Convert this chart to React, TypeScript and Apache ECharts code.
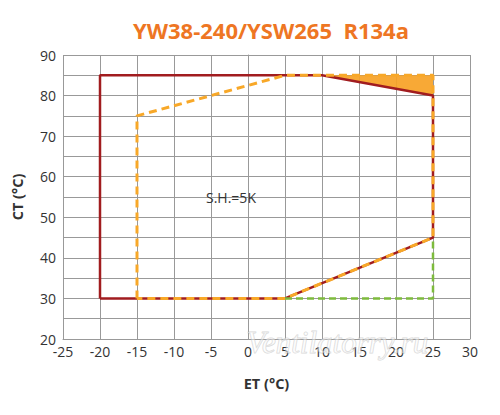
import React, { useEffect, useRef } from "react";
import * as echarts from "echarts";

const titleText = "YW38-240/YSW265  R134a";
const xName = "ET (°C)";
const yName = "CT (°C)";
const noteText = "S.H.=5K";
const notePos = [-2.3, 55];
const watermarkText = "Ventilatorry.ru";

const redEnvelope = [
  [-20, 30], [-20, 85], [10, 85], [25, 80], [25, 45], [5, 30], [-20, 30],
];
const orangeEnvelope = [
  [-15, 30], [-15, 75], [5, 85], [25, 85], [25, 45], [5, 30], [-15, 30],
];
const greenEnvelope = [
  [5, 30], [25, 30], [25, 45],
];
const orangeFill = [
  [10, 85], [25, 85], [25, 80],
];

const FONT = "'Open Sans', 'Noto Sans', sans-serif";

export default function App() {
  const ref = useRef<HTMLDivElement>(null);
  useEffect(() => {
    const chart = echarts.init(ref.current!, null, { renderer: "svg" });
    chart.setOption({
      animation: false,
      backgroundColor: "#ffffff",
      title: {
        text: titleText,
        left: 266,
        top: 14,
        textAlign: "center",
        textStyle: { color: "#ee7623", fontSize: 22, fontWeight: "bold", fontFamily: FONT },
      },
      grid: { left: 63, right: 30, top: 55, bottom: 76, containLabel: false },
      xAxis: {
        type: "value",
        min: -25,
        max: 30,
        interval: 5,
        name: xName,
        nameLocation: "middle",
        nameGap: 37,
        nameTextStyle: { color: "#333", fontSize: 14.5, fontWeight: "bold", fontFamily: FONT },
        axisLine: { show: true, lineStyle: { color: "#999", width: 1 } },
        axisTick: { show: false },
        axisLabel: { color: "#333", fontSize: 14, margin: 5, fontFamily: FONT },
        splitLine: { show: true, lineStyle: { color: "#999", width: 1 } },
      },
      yAxis: {
        type: "value",
        min: 20,
        max: 90,
        interval: 10,
        name: yName,
        nameLocation: "middle",
        nameGap: 38,
        nameTextStyle: { color: "#333", fontSize: 14.5, fontWeight: "bold", fontFamily: FONT },
        axisLine: { show: true, lineStyle: { color: "#999", width: 1 } },
        axisTick: { show: false },
        minorTick: { show: false, splitNumber: 2 },
        minorSplitLine: { show: true, lineStyle: { color: "#999", width: 1 } },
        axisLabel: { color: "#333", fontSize: 14, margin: 7, fontFamily: FONT },
        splitLine: { show: true, lineStyle: { color: "#999", width: 1 } },
      },
      series: [
        {
          type: "custom",
          data: [0],
          z: 2,
          renderItem: (params: any, api: any) => {
            const pts = orangeFill.map((p) => api.coord(p));
            return {
              type: "polygon",
              shape: { points: pts },
              style: { fill: "#f7a225", opacity: 0.92 },
            };
          },
        },
        {
          type: "line",
          data: redEnvelope,
          symbol: "none",
          z: 3,
          lineStyle: { color: "#a11c1f", width: 2.5 },
        },
        {
          type: "line",
          data: orangeEnvelope,
          symbol: "none",
          z: 4,
          lineStyle: { color: "#f8a828", width: 3, type: [8, 5] },
        },
        {
          type: "line",
          data: greenEnvelope,
          symbol: "none",
          z: 4,
          lineStyle: { color: "#7dbb3c", width: 2.5, type: [7, 4] },
        },
        {
          type: "custom",
          data: [notePos],
          z: 5,
          renderItem: (params: any, api: any) => {
            const c = api.coord([api.value(0), api.value(1)]);
            return {
              type: "text",
              x: c[0],
              y: c[1],
              style: {
                text: noteText,
                fill: "#333333",
                font: "14px " + FONT,
                align: "center",
                verticalAlign: "middle",
              },
            };
          },
        },
      ],
      graphic: [
        {
          type: "text",
          left: 246,
          top: 326,
          z: 10,
          style: {
            text: watermarkText,
            fill: "rgba(255,255,255,0.45)",
            stroke: "rgba(175,175,175,0.5)",
            lineWidth: 1,
            font: "italic 31px 'Liberation Serif', serif",
          },
        },
      ],
    });
    return () => chart.dispose();
  }, []);
  return <div ref={ref} style={{ width: 500, height: 415, position: "absolute", left: 0, top: 0 }} />;
}
